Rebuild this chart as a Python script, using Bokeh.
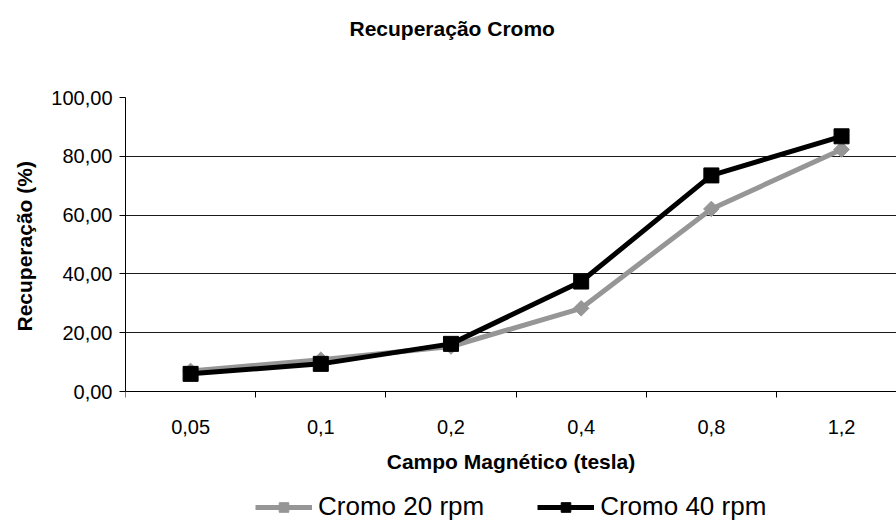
import math
from bokeh.plotting import figure
from bokeh.models import Range1d, FixedTicker, Legend, LegendItem, Title
from bokeh.embed import file_html
from bokeh.resources import INLINE

categories = ["0,05", "0,1", "0,2", "0,4", "0,8", "1,2"]
cromo_20 = [7.0, 10.8, 15.3, 28.3, 62.1, 82.3]
cromo_40 = [6.0, 9.4, 16.2, 37.4, 73.5, 86.8]
y_ticks = [0, 20, 40, 60, 80, 100]
y_tick_labels = ["0,00", "20,00", "40,00", "60,00", "80,00", "100,00"]
series_names = ["Cromo 20 rpm", "Cromo 40 rpm"]

FONT = "Liberation Sans"
xs = [i + 0.5 for i in range(len(categories))]
bounds = list(range(len(categories)))

# frame spans y=97..523 px; 0..100 occupies 294 px -> extend range below zero
PX_PER_UNIT = 294 / 100.0
y_low = 100 - 426 / PX_PER_UNIT

p = figure(width=896, height=523, output_backend="svg", toolbar_location=None,
           x_range=Range1d(0, 5.922), y_range=Range1d(y_low, 100),
           min_border_left=125, min_border_right=0, min_border_top=97,
           min_border_bottom=0)
p.outline_line_color = None
p.background_fill_color = "white"
p.border_fill_color = "white"

# spacer between title and frame
spacer = Title(text=" ", text_font_size="20px", standoff=29, text_color="white")
p.add_layout(spacer, "above")

# title
p.title.text = "Recuperação Cromo"
p.title.align = "left"
p.title.offset = 224
p.title.text_font = FONT
p.title.text_font_size = "21px"
p.title.text_font_style = "bold"
p.title.text_color = "black"
p.title.standoff = 10

# grid
p.xgrid.grid_line_color = None
p.ygrid.grid_line_color = "#1a1a1a"
p.ygrid.grid_line_width = 1
p.ygrid.ticker = FixedTicker(ticks=y_ticks)

# y axis
p.yaxis.ticker = FixedTicker(ticks=y_ticks)
p.yaxis.bounds = (0, 100)
p.yaxis.major_label_overrides = dict(zip(y_ticks, y_tick_labels))
p.yaxis.major_label_text_font = FONT
p.yaxis.major_label_text_font_size = "20px"
p.yaxis.major_label_text_color = "black"
p.yaxis.major_label_standoff = 7
p.yaxis.major_tick_out = 6
p.yaxis.major_tick_in = 0
p.yaxis.minor_tick_line_color = None
p.yaxis.axis_line_color = "black"
p.yaxis.major_tick_line_color = "black"

# y axis title (placed as a side title so it can be centred on the 0-100 span)
ytitle = Title(text="Recuperação (%)", align="left", offset=192,
               vertical_align="top", standoff=22, text_font=FONT,
               text_font_size="21px", text_font_style="bold", text_color="black")
p.add_layout(ytitle, "left")

# x axis, pinned at y = 0
p.xaxis.fixed_location = 0
p.xaxis.ticker = FixedTicker(ticks=xs, minor_ticks=bounds)
p.xaxis.major_label_overrides = dict(zip(xs, categories))
p.xaxis.axis_label = "Campo Magnético (tesla)"
p.xaxis.axis_label_text_font = FONT
p.xaxis.axis_label_text_font_size = "21px"
p.xaxis.axis_label_text_font_style = "bold"
p.xaxis.axis_label_text_color = "black"
p.xaxis.axis_label_standoff = 13
p.xaxis.major_label_text_font = FONT
p.xaxis.major_label_text_font_size = "20px"
p.xaxis.major_label_text_color = "black"
p.xaxis.major_label_standoff = 22
p.xaxis.major_tick_line_color = None
p.xaxis.major_tick_out = 0
p.xaxis.major_tick_in = 0
p.xaxis.minor_tick_line_color = "black"
p.xaxis.minor_tick_out = 6
p.xaxis.minor_tick_in = 0
p.xaxis.axis_line_color = "black"

GRAY = "#969696"
l20 = p.line(xs, cromo_20, line_color=GRAY, line_width=5)
m20 = p.scatter(xs, cromo_20, marker="square", angle=math.pi / 4, size=11,
                fill_color=GRAY, line_color=GRAY)
l40 = p.line(xs, cromo_40, line_color="black", line_width=5)
m40 = p.scatter(xs, cromo_40, marker="square", size=15, fill_color="black", line_color="black")

legend = Legend(items=[LegendItem(label=series_names[0], renderers=[l20, m20]),
                       LegendItem(label=series_names[1], renderers=[l40, m40])],
                orientation="horizontal", location=(130, 1),
                label_text_font=FONT, label_text_font_size="26px",
                label_text_color="black", glyph_width=57, glyph_height=24,
                spacing=53, padding=0, margin=0, label_standoff=6,
                border_line_color=None, background_fill_alpha=0)
p.add_layout(legend, "center")

open("out.html", "w").write(file_html(p, INLINE))
